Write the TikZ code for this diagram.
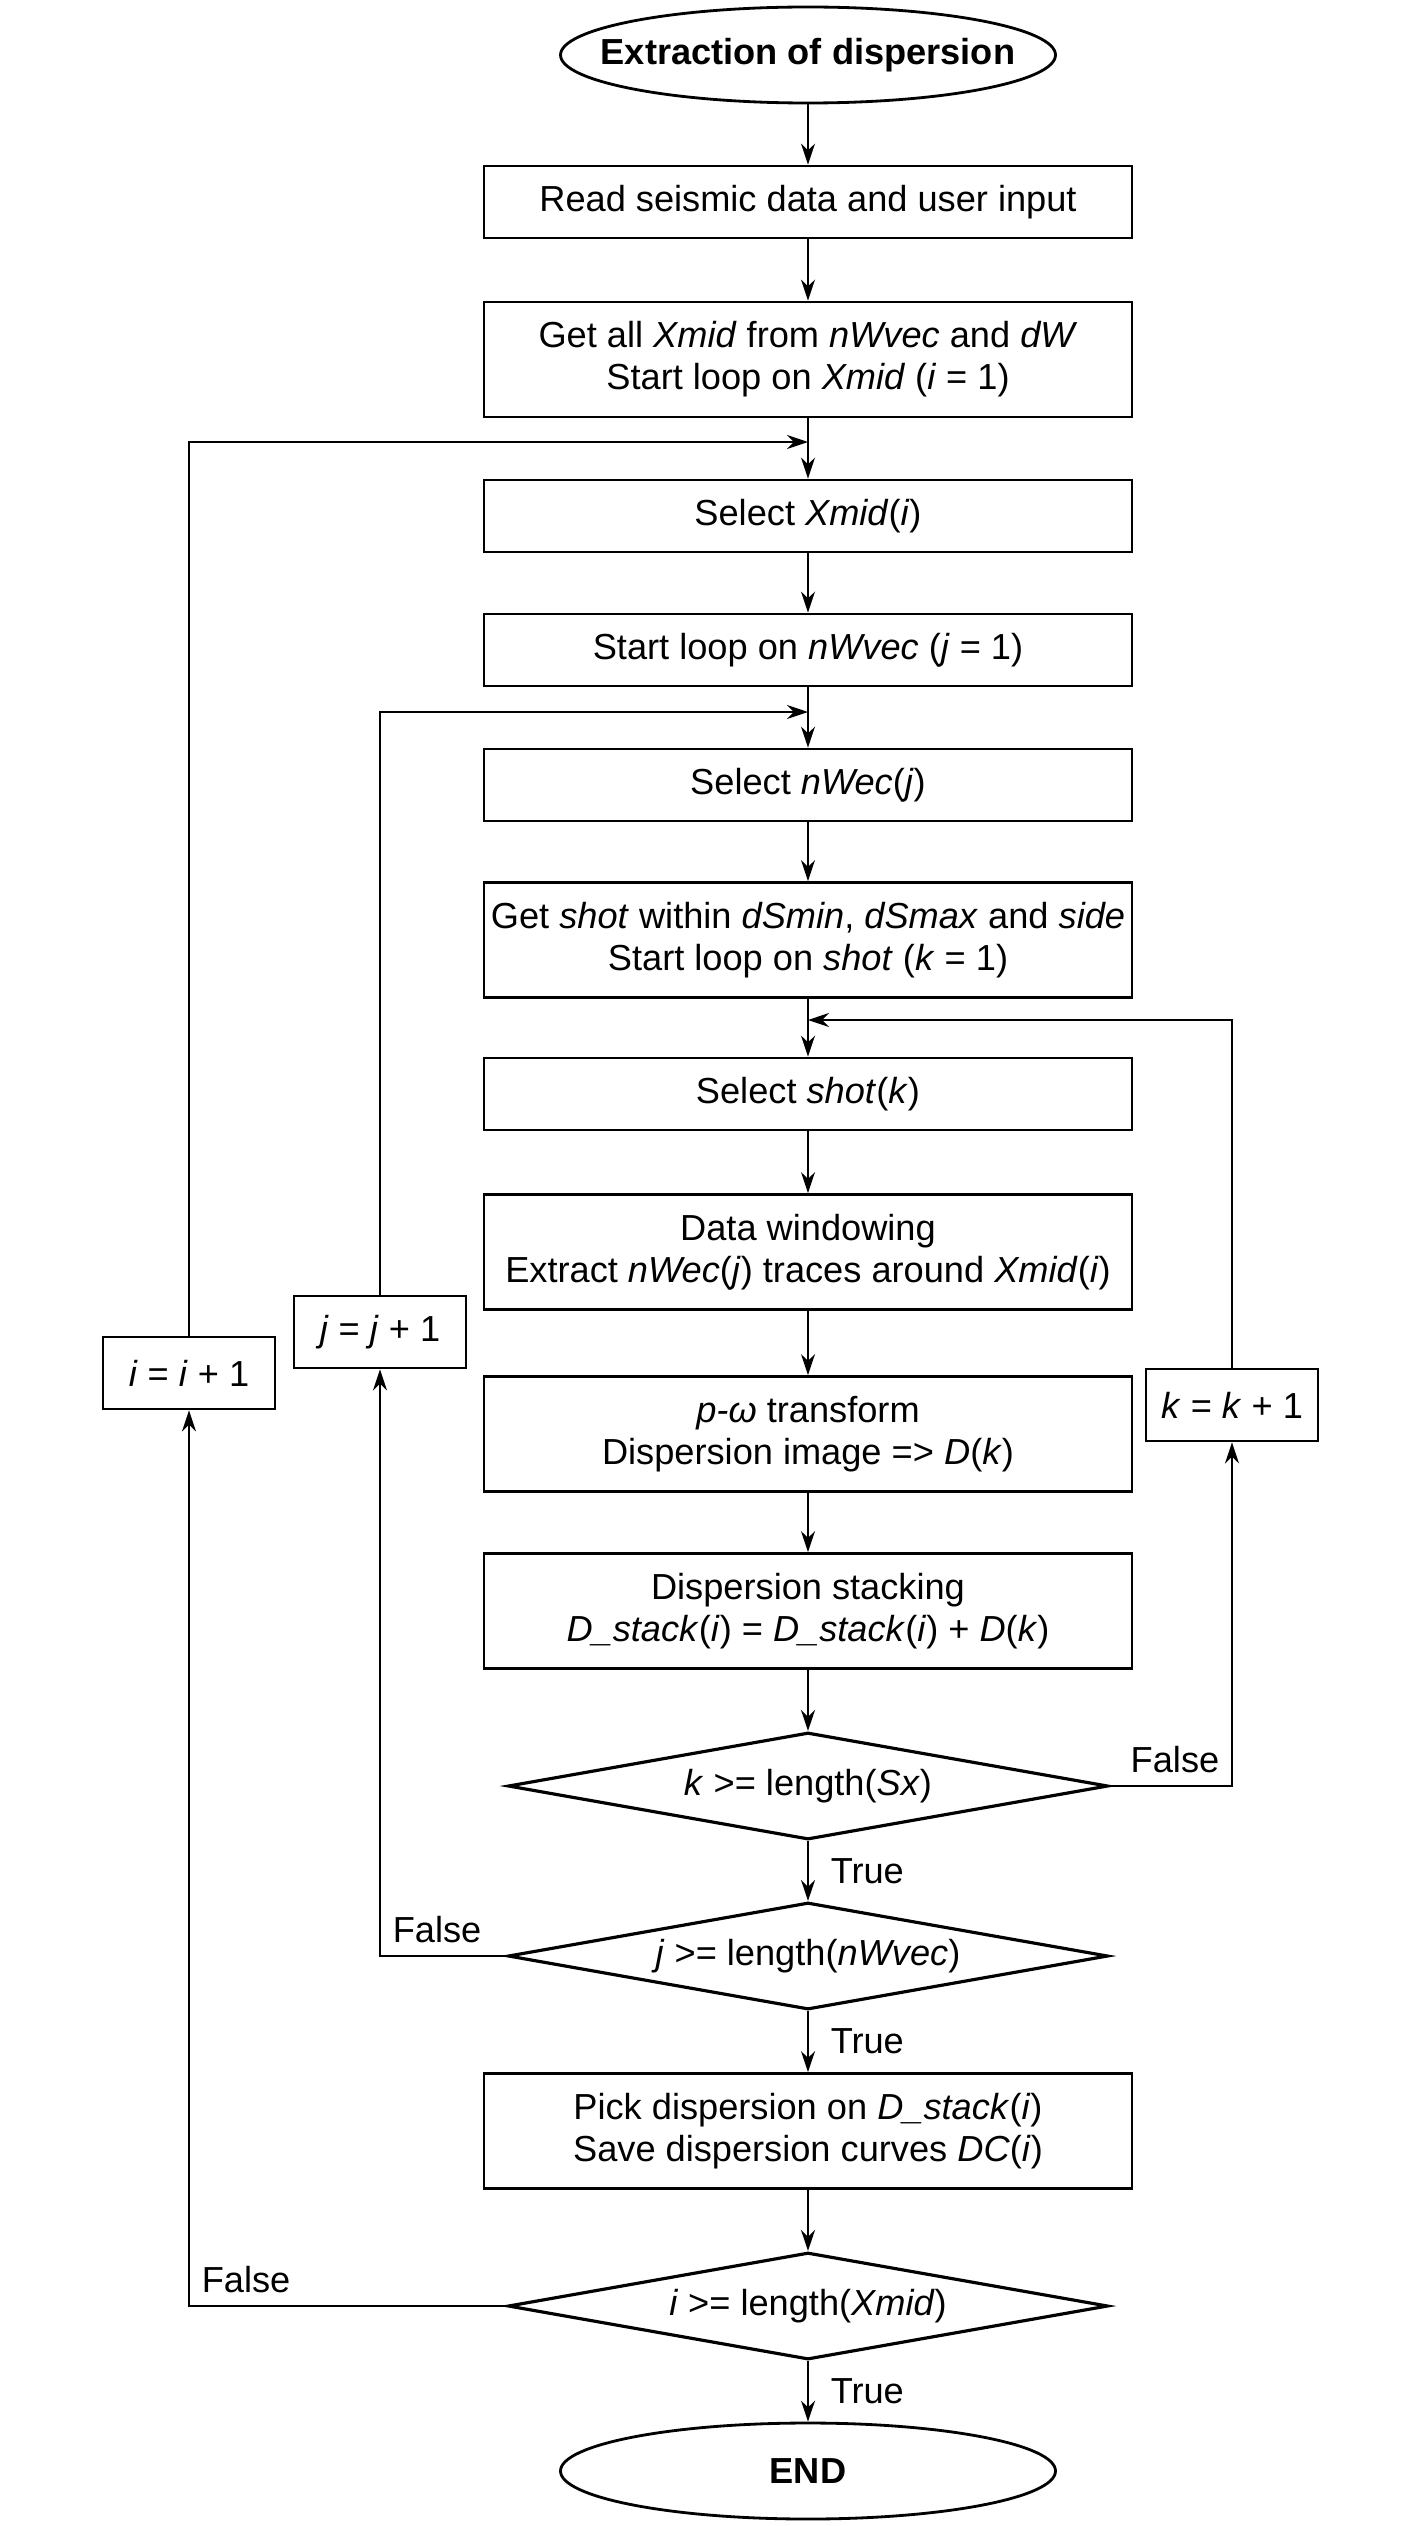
\documentclass[tikz,border=0pt]{standalone}
\usepackage{fontspec}
\setmainfont{Liberation Sans}
\usetikzlibrary{arrows.meta,shapes.geometric}

\begin{document}
\begin{tikzpicture}[>={Stealth[length=2.1mm,width=1.4mm]},
    font=\fontsize{10.3}{12}\selectfont,
    conn/.style={->, line width=0.6pt},
    stepbox/.style={draw, line width=0.8pt, minimum width=6.48cm, minimum height=0.72cm, align=center, inner xsep=0.5pt, inner ysep=2pt},
    tallbox/.style={stepbox, minimum height=1.15cm},
    loopbox/.style={draw, line width=0.8pt, minimum width=1.72cm, minimum height=0.72cm, inner sep=2pt},
    ifbox/.style={diamond, draw, line width=0.9pt, aspect=5.6, minimum width=6.0cm, minimum height=1.07cm, inner sep=1pt},
    termbox/.style={ellipse, draw, line width=0.8pt, inner xsep=-4mm, inner ysep=0pt, minimum width=4.95cm, minimum height=0.96cm, font=\fontsize{10.3}{12}\selectfont\bfseries}]
    \useasboundingbox (0,0) rectangle (14.13,-25.26);

    % main column
    \node[termbox] (start) at (8.08,-0.55) {Extraction of dispersion};
    \node[stepbox] (read) at (8.08,-2.02) {Read seismic data and user input};
    \node[tallbox] (getall) at (8.08,-3.595) {Get all \textit{Xmid} from \textit{nWvec} and \textit{dW}\\Start loop on \textit{Xmid} (\textit{i} = 1)};
    \node[stepbox] (selx) at (8.08,-5.16) {Select \textit{Xmid}(\textit{i})};
    \node[stepbox] (loopj) at (8.08,-6.50) {Start loop on \textit{nWvec} (\textit{j} = 1)};
    \node[stepbox] (selw) at (8.08,-7.85) {Select \textit{nWec}(\textit{j})};
    \node[tallbox] (getshot) at (8.08,-9.40) {Get \textit{shot} within \textit{dSmin}, \textit{dSmax} and \textit{side}\\Start loop on \textit{shot} (\textit{k} = 1)};
    \node[stepbox] (selshot) at (8.08,-10.94) {Select \textit{shot}(\textit{k})};
    \node[tallbox] (window) at (8.08,-12.52) {Data windowing\\Extract \textit{nWec}(\textit{j}) traces around \textit{Xmid}(\textit{i})};
    \node[tallbox] (pomega) at (8.08,-14.34) {\textit{p-ω} transform\\Dispersion image => \textit{D}(\textit{k})};
    \node[tallbox] (stack) at (8.08,-16.11) {Dispersion stacking\\\textit{D\_stack}(\textit{i}) = \textit{D\_stack}(\textit{i}) + \textit{D}(\textit{k})};
    \node[ifbox] (ifk) at (8.08,-17.86) {\textit{k} >= length(\textit{Sx})};
    \node[ifbox] (ifj) at (8.08,-19.56) {\textit{j} >= length(\textit{nWvec})};
    \node[tallbox] (pick) at (8.08,-21.31) {Pick dispersion on \textit{D\_stack}(\textit{i})\\Save dispersion curves \textit{DC}(\textit{i})};
    \node[ifbox] (ifi) at (8.08,-23.06) {\textit{i} >= length(\textit{Xmid})};
    \node[termbox] (end) at (8.08,-24.71) {END};

    % counters
    \node[loopbox] (inci) at (1.89,-13.73) {\textit{i} = \textit{i} + 1};
    \node[loopbox] (incj) at (3.80,-13.32) {\textit{j} = \textit{j} + 1};
    \node[loopbox] (inck) at (12.32,-14.05) {\textit{k} = \textit{k} + 1};

    % loop entries
    \coordinate (entryi) at (8.08,-4.42);
    \coordinate (entryj) at (8.08,-7.12);
    \coordinate (entryk) at (8.08,-10.20);

    % main flow
    \draw[conn] (start) -- (read);
    \draw[conn] (read) -- (getall);
    \draw[conn] (getall) -- (selx);
    \draw[conn] (selx) -- (loopj);
    \draw[conn] (loopj) -- (selw);
    \draw[conn] (selw) -- (getshot);
    \draw[conn] (getshot) -- (selshot);
    \draw[conn] (selshot) -- (window);
    \draw[conn] (window) -- (pomega);
    \draw[conn] (pomega) -- (stack);
    \draw[conn] (stack) -- (ifk);
    \draw[conn] (ifk) -- (ifj) node[midway, right=1mm] {True};
    \draw[conn] (ifj) -- (pick) node[midway, right=1mm] {True};
    \draw[conn] (pick) -- (ifi);
    \draw[conn] (ifi) -- (end) node[midway, right=1mm] {True};

    % loop k
    \draw[conn] (ifk.east) -| (inck.south) node[pos=0.5, above left] {False};
    \draw[conn] (inck.north) |- (entryk);

    % loop j
    \draw[conn] (ifj.west) -| (incj.south) node[pos=0.5, above right] {False};
    \draw[conn] (incj.north) |- (entryj);

    % loop i
    \draw[conn] (ifi.west) -| (inci.south) node[pos=0.5, above right] {False};
    \draw[conn] (inci.north) |- (entryi);
\end{tikzpicture}
\end{document}
